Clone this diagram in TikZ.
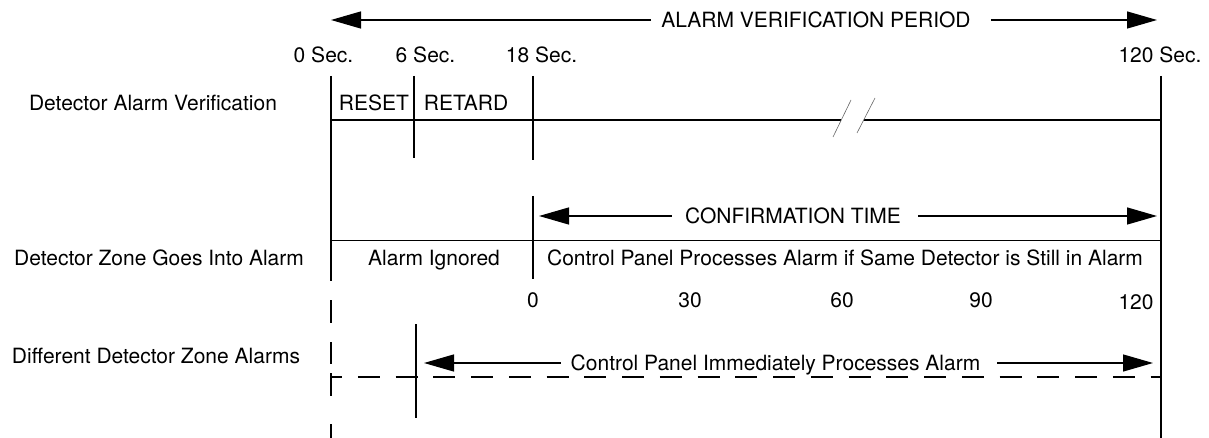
\documentclass[tikz,border=0pt]{standalone}
\usepackage{fontspec}
\setmainfont{TeX Gyre Heros}
\usetikzlibrary{arrows.meta}
\tikzset{
  lbl/.style={font=\fontsize{21}{25}\selectfont, inner sep=0pt, text height=15pt, text depth=0pt, anchor=center},
  ln/.style={line width=1.3pt},
  arr/.style={ln, -{Triangle[length=30pt,width=17pt]}},
  brk/.style={line width=0.6pt, black!60},
  dsh/.style={ln, dash pattern=on 22pt off 15.75pt, dash phase=11pt},
}
\begin{document}
\begin{tikzpicture}[x=1pt,y=-1pt]
\useasboundingbox (0,0) rectangle (1209,438);

% ---- top header arrow
\node[lbl] (avp) at (816,20) {ALARM VERIFICATION PERIOD};
\coordinate (avpL) at (331,20);
\coordinate (avpR) at (1157,20);
\draw[arr] ([xshift=-10pt]avp.west) -- (avpL);
\draw[arr] ([xshift=20pt]avp.east) -- (avpR);

% ---- time labels
\node[lbl] (s0) at (323.5,55.5) {0 Sec.};
\node[lbl] (s6) at (425.5,55.5) {6 Sec.};
\node[lbl] (s18) at (541.5,55.5) {18 Sec.};
\node[lbl] (s120) at (1160,55.5) {120 Sec.};

% ---- row labels
\node[lbl] (rowA) at (153,103.5) {Detector Alarm Verification};
\node[lbl] (rowB) at (159,258) {Detector Zone Goes Into Alarm};
\node[lbl] (rowC) at (156,356) {Different Detector Zone Alarms};

% ---- row 1
\node[lbl] (reset) at (374,103.5) {RESET};
\node[lbl] (retard) at (466,103.5) {RETARD};
\coordinate (v0top) at (331,76);
\coordinate (v0mid) at (331,281);
\coordinate (v0dash) at (331,300);
\coordinate (v0bot) at (331,438);
\coordinate (v6top) at (414,76);
\coordinate (v6bot) at (414,158);
\coordinate (v18top) at (533,76);
\coordinate (v18bot) at (533,160);
\coordinate (v120top) at (1161,76);
\coordinate (v120bot) at (1161,438);
\coordinate (r1L) at (331,120);
\coordinate (r1a) at (841,120);
\coordinate (r1b) at (864,120);
\coordinate (r1R) at (1161,120);
\draw[ln] (v0top) -- (v0mid);
\draw[ln] (v6top) -- (v6bot);
\draw[ln] (v18top) -- (v18bot);
\draw[ln] (v120top) -- (v120bot);
\draw[ln] (r1L) -- (r1a);
\draw[ln] (r1b) -- (r1R);
\coordinate (k1a) at (833,137);
\coordinate (k1b) at (851,100);
\coordinate (k2a) at (857,133);
\coordinate (k2b) at (875,98);
\draw[brk] (k1a) -- (k1b);
\draw[brk] (k2a) -- (k2b);

% ---- row 2
\node[lbl] (ct) at (793,216) {CONFIRMATION TIME};
\coordinate (ctL) at (539,216);
\coordinate (ctR) at (1157,216);
\draw[arr] ([xshift=-13pt]ct.west) -- (ctL);
\draw[arr] ([xshift=17pt]ct.east) -- (ctR);
\coordinate (v18btop) at (533,196);
\coordinate (v18bbot) at (533,279);
\draw[ln] (v18btop) -- (v18bbot);
\coordinate (r2L) at (331,240.7);
\coordinate (r2R) at (1161,240.7);
\draw[ln] (r2L) -- (r2R);
\node[lbl] (ign) at (434,258) {Alarm Ignored};
\node[lbl] (proc) at (845,258) {Control Panel Processes Alarm if Same Detector is Still in Alarm};
\node[lbl] (n0) at (533,300) {0};
\node[lbl] (n30) at (690,300) {30};
\node[lbl] (n60) at (842,300) {60};
\node[lbl] (n90) at (981,300) {90};
\node[lbl] (n120) at (1136,302) {120};

% ---- row 3
\draw[ln, dash pattern=on 23pt off 19pt on 22pt off 9pt on 23pt off 28pt on 20pt] (v0dash) -- (v0bot);
\coordinate (vdtop) at (416,324);
\coordinate (vdbot) at (416,418);
\draw[ln] (vdtop) -- (vdbot);
\coordinate (r3L) at (331,377);
\coordinate (r3R) at (1161,377);
\draw[dsh] (r3L) -- (r3R);
\node[lbl] (cpi) at (775.5,363) {Control Panel Immediately Processes Alarm};
\coordinate (cpiL) at (424,363);
\coordinate (cpiR) at (1153,363);
\draw[arr] ([xshift=-10pt]cpi.west) -- (cpiL);
\draw[arr] ([xshift=17pt]cpi.east) -- (cpiR);
\end{tikzpicture}
\end{document}
